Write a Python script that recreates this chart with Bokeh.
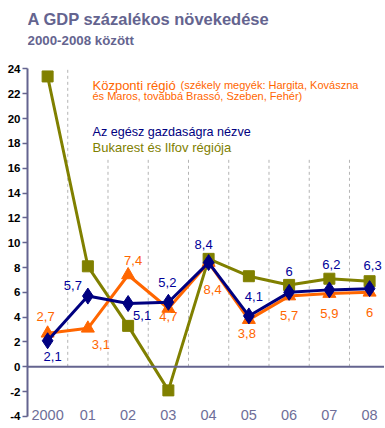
from bokeh.plotting import figure
from bokeh.models import ColumnDataSource, FixedTicker, Span, Label, BoxAnnotation
from bokeh.core.properties import value
from bokeh.embed import file_html
from bokeh.resources import INLINE

years = ["2000", "01", "02", "03", "04", "05", "06", "07", "08"]
kozponti = [2.7, 3.1, 7.4, 4.7, 8.4, 3.8, 5.7, 5.9, 6.0]
egesz = [2.1, 5.7, 5.1, 5.2, 8.4, 4.1, 6.0, 6.2, 6.3]
bukarest = [23.4, 8.1, 3.3, -1.9, 8.7, 7.3, 6.6, 7.1, 6.9]
y_ticks = list(range(-4, 26, 2))

# label offsets (pixels)
k_dx = [-2, 13, 5, 0, 4, -2, 0, 0, 0]
k_dy = [-17, 16, -14, 8, 27, 14, 19, 20, 20]
e_dx = [5, -15, 14, -1, -5, 5, 0, 2, 3]
e_dy = [16, -11, 12, -20, -18, -19, -21, -25, -23]

ORANGE = "#ff6600"
NAVY = "#000080"
NAVY_T = "#000099"
OLIVE = "#808000"
SLATE = "#64648f"
FONT = "Liberation Sans"

idx = list(range(len(years)))
ymin, ymax = y_ticks[0], y_ticks[-1]

p = figure(width=384, height=426, x_range=(-0.5, 8.37), y_range=(-4.81, 29.52),
           x_axis_type=None, output_backend="svg", toolbar_location=None,
           min_border_left=27, min_border_right=0, min_border_top=0, min_border_bottom=0)
p.outline_line_color = None
p.ygrid.visible = False
p.background_fill_color = "white"

ax = p.yaxis[0]
ax.ticker = FixedTicker(ticks=y_ticks)
ax.bounds = (ymin, ymax)
ax.major_label_overrides = {t: str(t) for t in y_ticks}
ax.axis_line_color = SLATE
ax.axis_line_width = 2
ax.major_tick_line_color = SLATE
ax.major_tick_line_width = 1.5
ax.major_tick_out = 5
ax.major_tick_in = 0
ax.minor_tick_line_color = None
ax.major_label_standoff = 2
ax.major_label_text_font = FONT
ax.major_label_text_font_style = "bold"
ax.major_label_text_font_size = "11.5px"
ax.major_label_text_color = "black"

# vertical dashed separators between categories
bounds_x = [i + 0.5 for i in idx[:-1]]
p.segment(x0=bounds_x, x1=bounds_x, y0=[0] * len(bounds_x), y1=[ymax] * len(bounds_x),
          line_color="#b4b4b4", line_dash="3 3", line_width=1)

p.add_layout(Span(location=0, dimension="width", line_color=SLATE, line_width=2))

# series
p.line(idx, bukarest, line_color=OLIVE, line_width=3)
p.scatter(idx, bukarest, marker="square", size=11, fill_color=OLIVE, line_color=OLIVE)
p.line(idx, kozponti, line_color=ORANGE, line_width=3)
p.scatter(idx, kozponti, marker="triangle", size=13, fill_color=ORANGE, line_color=ORANGE)
p.line(idx, egesz, line_color=NAVY, line_width=3)
p.scatter(idx, egesz, marker="diamond", size=16, fill_color=NAVY, line_color=NAVY)

def fmt(v):
    return f"{v:g}".replace(".", ",")

ks = ColumnDataSource(dict(x=idx, y=kozponti, t=[fmt(v) for v in kozponti], dx=k_dx, dy=k_dy))
es = ColumnDataSource(dict(x=idx, y=egesz, t=[fmt(v) for v in egesz], dx=e_dx, dy=e_dy))
p.text(x="x", y="y", text="t", x_offset="dx", y_offset="dy", source=ks, text_color=ORANGE,
       text_font=value(FONT), text_font_size="13px", text_align="center", text_baseline="middle")
p.text(x="x", y="y", text="t", x_offset="dx", y_offset="dy", source=es, text_color=NAVY_T,
       text_font=value(FONT), text_font_size="13px", text_align="center", text_baseline="middle")

# category labels
p.text(x=idx, y=[ymin] * len(idx), text=years, text_color="#6e6e98", text_font=value(FONT),
       text_font_size="14.5px", text_align="center", text_baseline="middle", y_offset=-1)

# legend background
p.add_layout(BoxAnnotation(left=0.82, bottom=16.8, fill_color="white", fill_alpha=1, line_color=None))

def lab(x, y, text, color, size, style="normal", xoff=0):
    p.add_layout(Label(x=x, y=y, text=text, text_color=color, text_font=FONT, text_font_size=size,
                       text_font_style=style, text_baseline="middle", x_offset=xoff))

lab(-0.5, 28.06, "A GDP százalékos növekedése", SLATE, "16.5px", "bold")
lab(-0.5, 26.3, "2000-2008 között", SLATE, "13.3px", "bold")
lab(1.115, 22.7, "Központi régió", ORANGE, "13px")
lab(1.115, 22.7, "(székely megyék: Hargita, Kovászna", ORANGE, "11px", xoff=88)
lab(1.115, 21.8, "és Maros, továbbá Brassó, Szeben, Fehér)", ORANGE, "11px")
lab(1.115, 18.9, "Az egész gazdaságra nézve", NAVY, "12.6px")
lab(1.115, 17.67, "Bukarest és Ilfov régiója", OLIVE, "13px")

open("out.html", "w").write(file_html(p, INLINE))
